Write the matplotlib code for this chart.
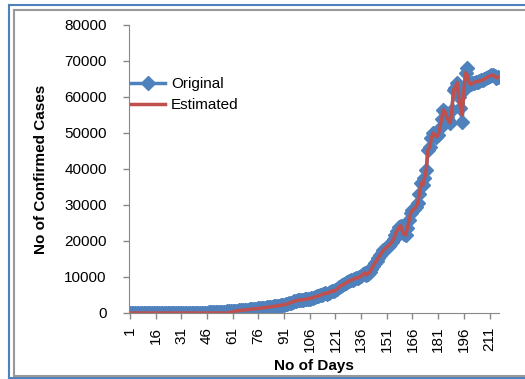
# Confirmed cases: original vs estimated, Excel-style line chart
import numpy as np
import matplotlib.pyplot as plt
from matplotlib.lines import Line2D

plt.rcParams['font.family'] = ['Liberation Sans', 'DejaVu Sans']

# data, one value per day (days 1..216)
original = [
    0, 0, 0, 0, 0, 0, 0, 0, 0, 0,
    0, 0, 0, 0, 0, 0, 0, 0, 0, 0,
    0, 0, 0, 0, 0, 0, 1, 1, 2, 2,
    3, 5, 8, 10, 15, 20, 25, 30, 40, 50,
    60, 70, 80, 95, 110, 125, 140, 160, 180, 200,
    220, 245, 270, 300, 330, 360, 390, 420, 460, 500,
    540, 580, 620, 660, 700, 750, 800, 850, 900, 950,
    1000, 1050, 1100, 1150, 1200, 1260, 1320, 1380, 1440, 1500,
    1560, 1620, 1690, 1760, 1830, 1900, 1980, 2060, 2140, 2220,
    2300, 2400, 2550, 2700, 2900, 3100, 3300, 3400, 3500, 3600,
    3650, 3700, 3800, 3900, 3950, 4000, 4150, 4300, 4450, 4600,
    4750, 4900, 5100, 5300, 5500, 5400, 5600, 5900, 6200, 6000,
    6300, 6700, 7100, 7500, 7800, 8000, 8300, 8600, 8900, 9100,
    9300, 9500, 9700, 9800, 9900, 10200, 10700, 11200, 10600, 10900,
    11300, 12200, 13100, 13800, 14500, 15300, 16000, 16800, 17400, 17900,
    18300, 18700, 19200, 19700, 20600, 21800, 22900, 23800, 24300, 22800,
    21900, 21700, 23500, 25800, 27800, 28500, 29000, 29400, 30500, 33000,
    36000, 35500, 37500, 39700, 45300, 46000, 48500, 50000, 49500, 49000,
    49500, 51500, 54000, 56400, 55800, 54400, 53500, 52800, 56500, 62000,
    62500, 64000, 60000, 57000, 53000, 62000, 66700, 68000, 64000, 63500,
    63800, 64000, 64200, 64300, 64500, 64600, 64700, 65000, 65300, 65600,
    65800, 66000, 66100, 65800, 65300, 65500,
]

estimated = [
    0, 0, 0, 0, 0, 0, 0, 0, 0, 0,
    0, 0, 0, 0, 0, 0, 0, 0, 0, 0,
    0, 0, 0, 0, 0, 0, 0, 0, 0, 0,
    0, 0, 0, 0, 0, 0, 0, 0, 0, 0,
    0, 0, 0, 0, 0, 0, 0, 0, 0, 0,
    0, 0, 0, 0, 0, 0, 0, 0, 50, 150,
    300, 450, 550, 650, 700, 750, 800, 850, 900, 950,
    1000, 1050, 1100, 1150, 1200, 1260, 1320, 1380, 1440, 1500,
    1560, 1620, 1690, 1760, 1830, 1900, 1980, 2060, 2140, 2220,
    2300, 2400, 2550, 2700, 2900, 3100, 3300, 3400, 3500, 3600,
    3650, 3700, 3800, 3900, 3950, 4000, 4150, 4300, 4450, 4600,
    4750, 4900, 5100, 5300, 5500, 5400, 5600, 5900, 6200, 6000,
    6300, 6700, 7100, 7500, 7800, 8000, 8300, 8600, 8900, 9100,
    9300, 9500, 9700, 9800, 9900, 10200, 10700, 11200, 10600, 10900,
    11300, 12200, 13100, 13800, 14500, 15300, 16000, 16800, 17400, 17900,
    18300, 18700, 19200, 19700, 20600, 21800, 22900, 23800, 24300, 22800,
    21900, 21700, 23500, 25800, 27800, 28500, 29000, 29400, 30500, 33000,
    36000, 35500, 37500, 39700, 45300, 46000, 48500, 50000, 49500, 49000,
    49500, 51500, 54000, 56400, 55800, 54400, 53500, 52800, 56500, 62000,
    62500, 64000, 60000, 57000, 55000, 62000, 66700, 66000, 64000, 63500,
    63800, 64000, 64200, 64300, 64500, 64600, 64700, 65000, 65300, 65600,
    65800, 66000, 66100, 65800, 65300, 65500,
]

days = np.arange(1, len(original) + 1)
tick_days = list(range(1, 212, 15))
y_ticks = list(range(0, 80001, 10000))

fig = plt.figure(figsize=(5.25, 3.79), dpi=100)
ax = fig.add_axes([129/525, 1 - 313/379, 370/525, 288/379])

ax.plot(days, original, color='#4f81bd', marker='D', markersize=7,
        linewidth=2.5, label='Original')
ax.plot(days, estimated, color='#c0504d', linewidth=2.5, label='Estimated')

ax.set_xlim(0.5, len(days) + 0.5)
ax.set_ylim(0, 80000)
ax.set_yticks(y_ticks)
ax.set_yticklabels([str(v) for v in y_ticks], fontsize=11)
ax.set_xticks(tick_days)
ax.set_xticklabels([str(d) for d in tick_days], rotation=90, fontsize=11)

for s in ['top', 'right']:
    ax.spines[s].set_visible(False)
for s in ['left', 'bottom']:
    ax.spines[s].set_color('#888888')
ax.tick_params(axis='both', color='#888888', length=4, width=1)
ax.tick_params(axis='y', pad=12)
ax.tick_params(axis='x', pad=6)

ax.set_ylabel('No of Confirmed Cases', fontsize=11, fontweight='bold', labelpad=12)
ax.set_xlabel('No of Days', fontsize=11, fontweight='bold', labelpad=5)

ax.legend(loc='upper left', bbox_to_anchor=(-0.01, 0.84), frameon=False,
          fontsize=11, handlelength=2.2, borderaxespad=0, labelspacing=0.45,
          handletextpad=0.4)

# Excel chart frame: blue outer, gray inner
W, H = 525, 379
frame = [
    ((9, 525), (5, 5), '#4f81bd'),
    ((9, 9), (5, 378), '#4f81bd'),
    ((9, 525), (378, 378), '#4f81bd'),
    ((14, 525), (10, 10), '#999999'),
    ((14, 14), (10, 376), '#999999'),
    ((14, 525), (376, 376), '#999999'),
]
for xs, ys, c in frame:
    fig.add_artist(Line2D([x / W for x in xs], [1 - y / H for y in ys],
                          color=c, linewidth=1.5))

fig.savefig('out.png', dpi=100)
